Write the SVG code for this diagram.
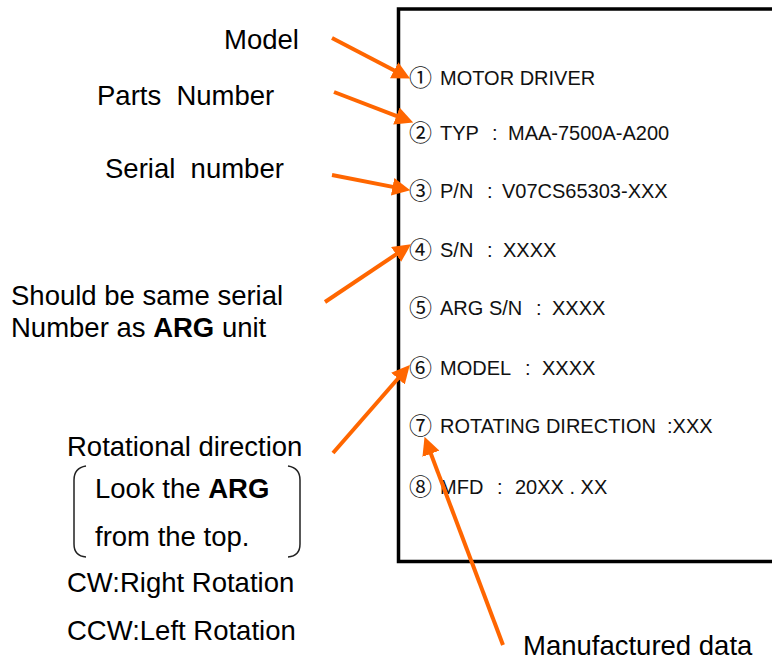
<svg xmlns="http://www.w3.org/2000/svg" width="772" height="661" viewBox="0 0 772 661">
<style>
.lbl{font-family:"Liberation Sans",Arial,sans-serif;font-size:27.5px;fill:#000}
.b{font-weight:bold}
.pl{font-family:"Liberation Sans",Arial,sans-serif;font-size:20px;fill:#111}
.cn{font-family:"Noto Sans CJK JP","DejaVu Sans",sans-serif;font-size:23px;fill:#111}
.arr{stroke:#FF6600;stroke-width:4;fill:none;marker-end:url(#ah)}
.brk{stroke:#222;stroke-width:1.5;fill:none}
</style>
<defs>
<marker id="ah" markerUnits="userSpaceOnUse" markerWidth="18" markerHeight="18" viewBox="0 0 16 16" refX="6" refY="8" orient="auto">
<path d="M0,0 L16,8 L0,16 z" fill="#FF6600"/>
</marker>
</defs>
<rect width="772" height="661" fill="#fff"/>
<g id="plate">
<path d="M775,9 H398.5 V561.5 H775" fill="none" stroke="#000" stroke-width="3.5"/>
<text class="cn" x="409" y="86">①</text>
<text class="pl" x="440" y="85">MOTOR DRIVER</text>
<text class="cn" x="409" y="141">②</text>
<text class="pl" x="440" y="140">TYP</text>
<text class="pl" x="492" y="140">:</text>
<text class="pl" x="508" y="140">MAA-7500A-A200</text>
<text class="cn" x="409" y="199">③</text>
<text class="pl" x="440" y="198">P/N</text>
<text class="pl" x="487" y="198">:</text>
<text class="pl" x="502" y="198">V07CS65303-XXX</text>
<text class="cn" x="409" y="258">④</text>
<text class="pl" x="440" y="257">S/N</text>
<text class="pl" x="487" y="257">:</text>
<text class="pl" x="503" y="257">XXXX</text>
<text class="cn" x="409" y="316">⑤</text>
<text class="pl" x="440" y="315">ARG S/N</text>
<text class="pl" x="536" y="315">:</text>
<text class="pl" x="552" y="315">XXXX</text>
<text class="cn" x="409" y="376">⑥</text>
<text class="pl" x="440" y="375">MODEL</text>
<text class="pl" x="525" y="375">:</text>
<text class="pl" x="542" y="375">XXXX</text>
<text class="cn" x="409" y="434">⑦</text>
<text class="pl" x="440" y="433">ROTATING DIRECTION</text>
<text class="pl" x="667" y="433">:XXX</text>
<text class="cn" x="409" y="495">⑧</text>
<text class="pl" x="440" y="494">MFD</text>
<text class="pl" x="497" y="494">:</text>
<text class="pl" x="515" y="494">20XX . XX</text>
</g>
<g id="label-model"><text class="lbl" x="224" y="49">Model</text></g>
<g id="label-parts"><text class="lbl" x="97" y="105" xml:space="preserve">Parts  Number</text></g>
<g id="label-serial"><text class="lbl" x="105" y="178" xml:space="preserve">Serial  number</text></g>
<g id="label-same">
<text class="lbl" x="11" y="305">Should be same serial</text>
<text class="lbl" x="11" y="337">Number as <tspan class="b">ARG</tspan> unit</text>
</g>
<g id="label-rotation">
<text class="lbl" x="67" y="456">Rotational direction</text>
<path class="brk" d="M86,466 Q74,468 74,480 V544 Q74,556 86,557"/>
<path class="brk" d="M288,466 Q300,468 300,480 V544 Q300,556 288,557"/>
<text class="lbl" x="95" y="498">Look the <tspan class="b">ARG</tspan></text>
<text class="lbl" x="95" y="546">from the top.</text>
<text class="lbl" x="67" y="592">CW:Right Rotation</text>
<text class="lbl" x="67" y="640">CCW:Left Rotation</text>
</g>
<g id="label-mfd"><text class="lbl" x="523" y="655">Manufactured data</text></g>
<g id="connectors">
<line class="arr" x1="332" y1="38" x2="400.1" y2="73.4"/>
<line class="arr" x1="334" y1="92" x2="402.7" y2="118.4"/>
<line class="arr" x1="332" y1="175" x2="399.2" y2="188.1"/>
<line class="arr" x1="325" y1="302" x2="401.7" y2="250.6"/>
<line class="arr" x1="333" y1="453" x2="402.4" y2="373.5"/>
<line class="arr" x1="503" y1="645" x2="428.5" y2="447.4"/>
</g>
</svg>
